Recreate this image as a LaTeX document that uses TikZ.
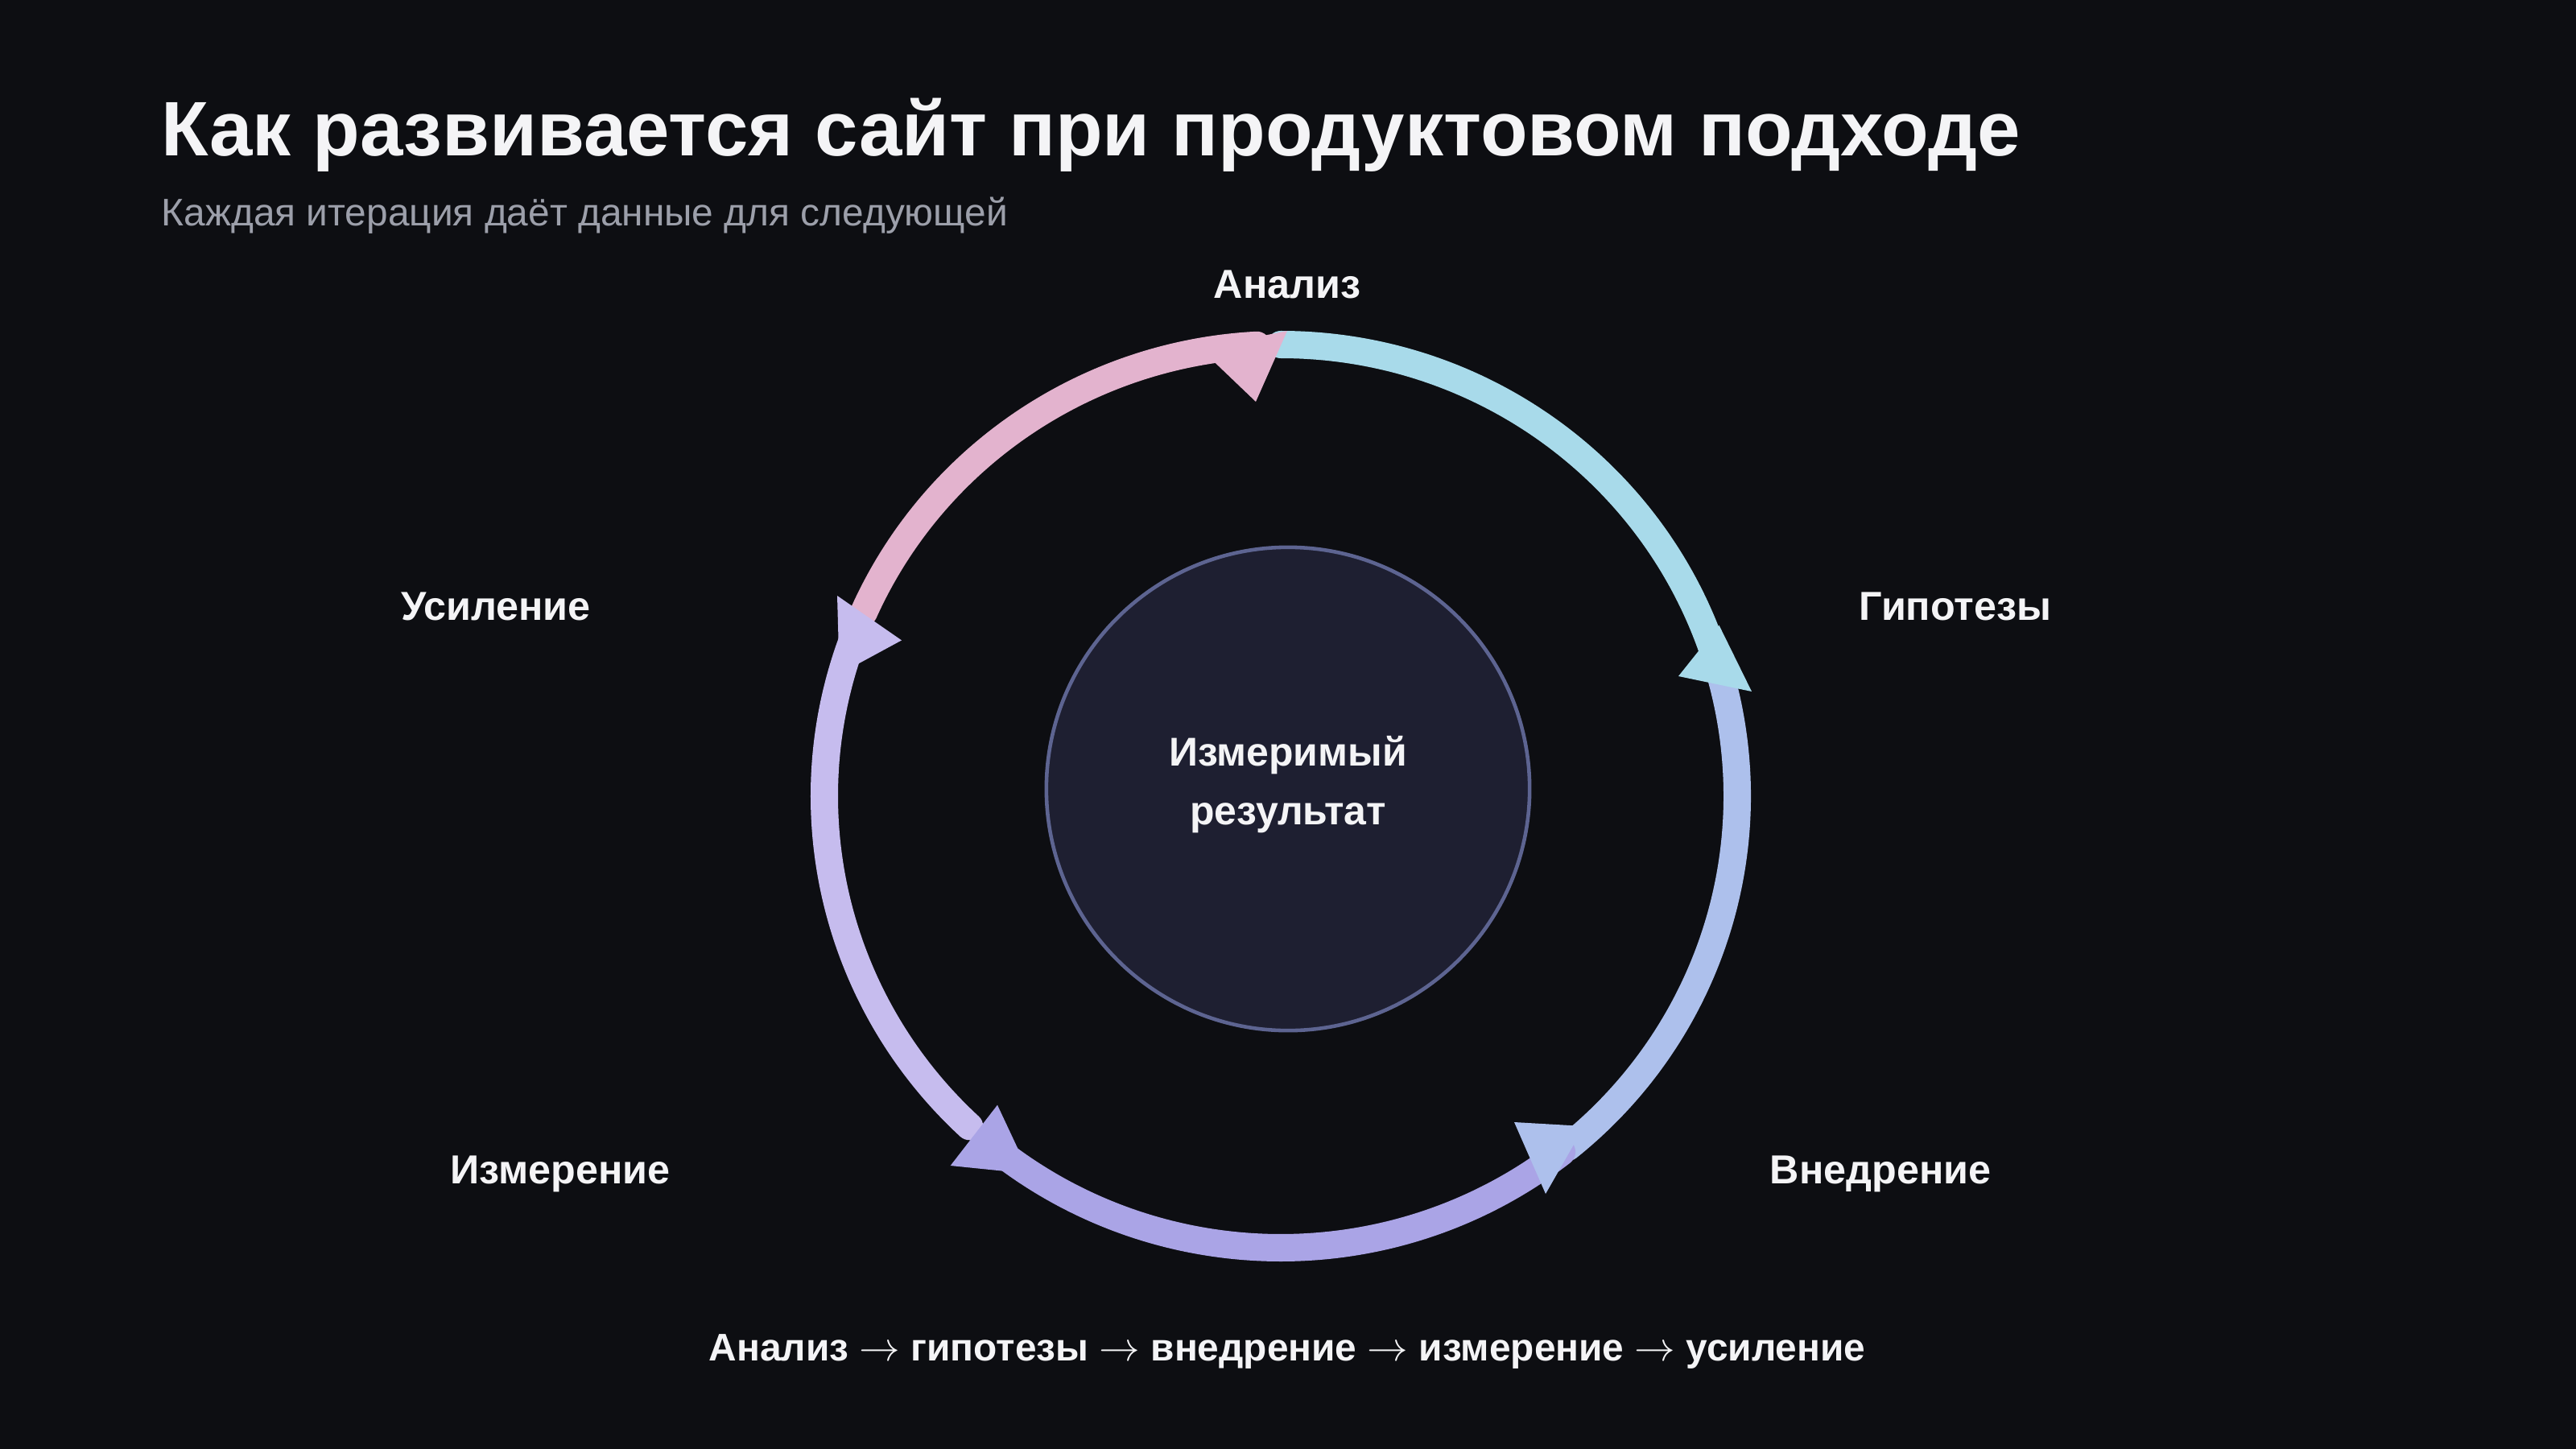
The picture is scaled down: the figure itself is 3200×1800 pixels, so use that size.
\documentclass[tikz,border=0pt]{standalone}
\usepackage{fontspec}
\setmainfont{Liberation Sans}
\definecolor{bgc}{HTML}{0D0E12}
\definecolor{txtc}{HTML}{F4F4F6}
\definecolor{subc}{HTML}{9C9FAA}
\definecolor{cyanc}{HTML}{A8DAEA}
\definecolor{bluec}{HTML}{ADC0EC}
\definecolor{purpc}{HTML}{AAA4E6}
\definecolor{lavc}{HTML}{C6BCEE}
\definecolor{pinkc}{HTML}{E3B3CE}
\definecolor{corefill}{HTML}{1E1F31}
\definecolor{coreline}{HTML}{5D6491}
\tikzset{
  seg/.style={line width=0.34cm, line cap=round},
  headtri/.style={draw=none},
  lbl/.style={anchor=base, inner sep=0pt, text=txtc, font=\fontsize{14.3}{17}\selectfont\bfseries},
  corelbl/.style={anchor=base, inner sep=0pt, text=txtc, font=\fontsize{14.2}{17}\selectfont\bfseries},
  flowlbl/.style={anchor=base, inner sep=0pt, text=txtc, font=\fontsize{13.6}{16}\selectfont\bfseries},
}
\newcommand{\flowarr}{\ $\rightarrow$\ }
\begin{document}
\begin{tikzpicture}[x=0.01cm,y=-0.01cm]
\fill[bgc] (0,0) rectangle (3200,1800);
\useasboundingbox (0,0) rectangle (3200,1800);

\node[anchor=base west, inner sep=0pt, text=txtc, font=\fontsize{27.3}{32}\selectfont\bfseries] (title) at (200,194) {Как развивается сайт при продуктовом подходе};
\node[anchor=base west, inner sep=0pt, text=subc, font=\fontsize{13.6}{16}\selectfont] (subtitle) at (200,280) {Каждая итерация даёт данные для следующей};

% inner circle
\node[circle, minimum size=6cm, inner sep=0pt, fill=corefill, draw=coreline, line width=1.3pt] (core) at (1600,980) {};
\node[corelbl] (core1) at (1600,951) {Измеримый};
\node[corelbl] (core2) at (1600,1024) {результат};

% ring
\coordinate (c) at (1591,989);
\draw[seg, cyanc] (c) ++(-90:567 and 561) arc[start angle=-90, end angle=-17, x radius=567, y radius=561];
\draw[seg, bluec] (c) ++(-15:567 and 561) arc[start angle=-15, end angle=51, x radius=567, y radius=561];
\draw[seg, purpc] (c) ++(52:567 and 561) arc[start angle=52, end angle=129, x radius=567, y radius=561];
\draw[seg, lavc] (c) ++(133:567 and 561) arc[start angle=133, end angle=200, x radius=567, y radius=561];
\draw[seg, pinkc] (c) ++(204:567 and 561) arc[start angle=204, end angle=267, x radius=567, y radius=561];

% arrow heads
\fill[headtri, pinkc] (1599,411) -- (1560,499) -- (1491,433) -- cycle;
\fill[headtri, cyanc] (2176,859) -- (2085,840) -- (2135.5,776.7) -- cycle;
\fill[headtri, bluec] (1920,1483) -- (1881,1394) -- (1968,1399) -- cycle;
\fill[headtri, purpc] (1180.7,1448) -- (1239,1372.7) -- (1279,1458) -- cycle;
\fill[headtri, lavc] (1040,740) -- (1120,795.4) -- (1042.7,837.3) -- cycle;

% labels
\node[lbl] (l1) at (1599,370) {Анализ};
\node[lbl] (l2) at (2429,770) {Гипотезы};
\node[lbl] (l3) at (2336,1470) {Внедрение};
\node[lbl] (l4) at (696,1470) {Измерение};
\node[lbl] (l5) at (616,770) {Усиление};

\node[flowlbl] (flow) at (1599,1690) {Анализ\flowarr гипотезы\flowarr внедрение\flowarr измерение\flowarr усиление};
\end{tikzpicture}
\end{document}
